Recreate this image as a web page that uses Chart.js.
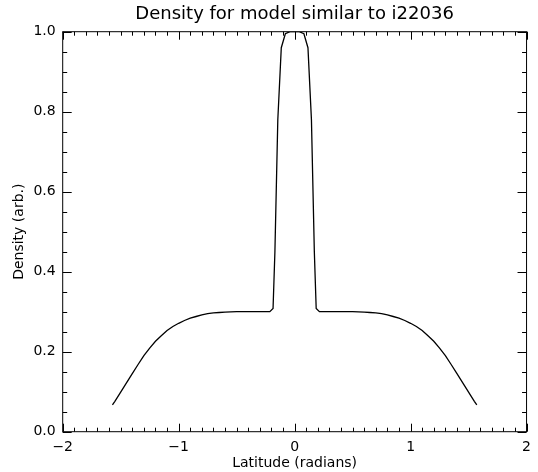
<!DOCTYPE html>
<html>
<head>
<meta charset="utf-8">
<script src="https://cdn.jsdelivr.net/npm/chart.js@4/dist/chart.umd.min.js"></script>
<style>
  html, body { margin: 0; padding: 0; background: #fff; }
  #wrap { width: 538px; height: 472px; }
</style>
</head>
<body>
<div id="wrap"><canvas id="densityChart" width="538" height="472"></canvas></div>
<script>
// latitude samples (radians) and density (left half, mirrored)
const latLeft = [-1.571, -1.55, -1.5, -1.45, -1.4, -1.35, -1.3, -1.25, -1.2, -1.15, -1.1, -1.05, -1.0, -0.95, -0.9, -0.85, -0.8, -0.75, -0.7, -0.65, -0.6, -0.5, -0.4, -0.3, -0.214, -0.186, -0.17, -0.145, -0.115, -0.08, -0.04, 0];
const densLeft = [0.067, 0.076, 0.099, 0.122, 0.145, 0.168, 0.190, 0.209, 0.226, 0.240, 0.253, 0.263, 0.271, 0.278, 0.284, 0.288, 0.292, 0.295, 0.297, 0.298, 0.299, 0.300, 0.300, 0.300, 0.300, 0.308, 0.45, 0.78, 0.96, 0.995, 1.0, 1.0];
const xTicks = [-2, -1, 0, 1, 2];
const yTicks = [0.0, 0.2, 0.4, 0.6, 0.8, 1.0];

const points = [];
latLeft.forEach((x, i) => points.push({x: x, y: densLeft[i]}));
for (let i = latLeft.length - 2; i >= 0; i--) points.push({x: -latLeft[i], y: densLeft[i]});

const fontFam = '"DejaVu Sans", "Liberation Sans", sans-serif';

// IDL style frame with inward ticks on all four sides
const idlFrame = {
    id: 'idlFrame',
    afterDraw(chart) {
        const {ctx, chartArea: a, scales} = chart;
        ctx.save();
        ctx.strokeStyle = '#000';
        ctx.lineWidth = 1;
        ctx.strokeRect(a.left, a.top, a.right - a.left, a.bottom - a.top);
        ctx.beginPath();
        for (let i = -20; i <= 20; i++) {
            const px = Math.round(scales.x.getPixelForValue(i / 10)) + 0.5;
            const len = i % 10 === 0 ? 8 : 4;
            ctx.moveTo(px, a.bottom); ctx.lineTo(px, a.bottom - len);
            ctx.moveTo(px, a.top); ctx.lineTo(px, a.top + len);
        }
        for (let i = 0; i <= 20; i++) {
            const py = Math.round(scales.y.getPixelForValue(i * 0.05)) + 0.5;
            const len = i % 4 === 0 ? 9 : 4.5;
            ctx.moveTo(a.left, py); ctx.lineTo(a.left + len, py);
            ctx.moveTo(a.right, py); ctx.lineTo(a.right - len, py);
        }
        ctx.stroke();
        ctx.restore();
    }
};

new Chart(document.getElementById('densityChart'), {
    type: 'line',
    data: {
        datasets: [{
            data: points,
            borderColor: '#000',
            borderWidth: 1.3,
            pointRadius: 0,
            tension: 0,
            fill: false
        }]
    },
    options: {
        responsive: false,
        animation: false,
        layout: { padding: { left: 0, right: 8.3, top: 0.5, bottom: 0 } },
        plugins: {
            legend: { display: false },
            tooltip: { enabled: false },
            title: {
                display: true,
                text: 'Density for model similar to i22036',
                fullSize: false,
                color: '#000',
                font: { family: fontFam, size: 18, weight: 'normal' },
                padding: { top: 3, bottom: 6.6 }
            }
        },
        scales: {
            x: {
                type: 'linear',
                min: -2, max: 2,
                afterBuildTicks: s => { s.ticks = xTicks.map(v => ({value: v})); },
                afterFit: s => { s.height = 40.3; },
                grid: { display: false, drawTicks: false },
                border: { display: false },
                ticks: {
                    color: '#000',
                    padding: 7,
                    maxRotation: 0,
                    font: { family: fontFam, size: 14 },
                    callback: v => String(v).replace('-', '\u2212')
                },
                title: {
                    display: true,
                    text: 'Latitude (radians)',
                    color: '#000',
                    font: { family: fontFam, size: 14 },
                    padding: { top: 0, bottom: 0 }
                }
            },
            y: {
                type: 'linear',
                min: 0, max: 1,
                afterBuildTicks: s => { s.ticks = yTicks.map(v => ({value: v})); },
                afterFit: s => { s.width = 62.7; },
                grid: { display: false, drawTicks: false },
                border: { display: false },
                ticks: {
                    color: '#000',
                    padding: 7,
                    font: { family: fontFam, size: 14 },
                    callback: v => v.toFixed(1)
                },
                title: {
                    display: true,
                    text: 'Density (arb.)',
                    color: '#000',
                    font: { family: fontFam, size: 14 },
                    padding: { top: 11, bottom: 0 }
                }
            }
        }
    },
    plugins: [idlFrame]
});
</script>
</body>
</html>
